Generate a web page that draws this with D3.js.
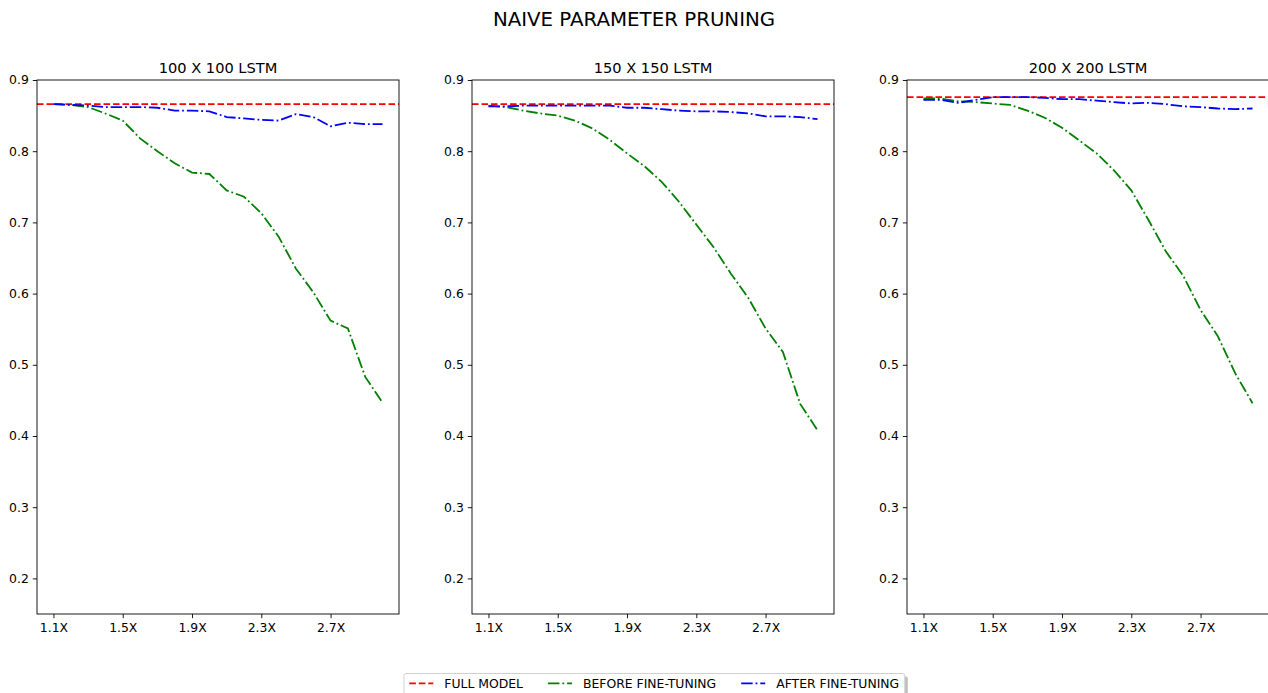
<!DOCTYPE html>
<html><head><meta charset="utf-8">
<script src="https://cdn.jsdelivr.net/npm/d3@7"></script>
<style>
html,body{margin:0;padding:0;background:#fff;overflow:hidden}
text{font-family:"DejaVu Sans",sans-serif;fill:#000}
</style></head>
<body>
<svg id="chart" width="1268" height="693"></svg>
<script>
const xValues = [1.1,1.2,1.3,1.4,1.5,1.6,1.7,1.8,1.9,2.0,2.1,2.2,2.3,2.4,2.5,2.6,2.7,2.8,2.9,3.0];
const xTicks = [1.1,1.5,1.9,2.3,2.7];
const yTicks = [0.2,0.3,0.4,0.5,0.6,0.7,0.8,0.9];
const panelTitles = ["100 X 100 LSTM","150 X 150 LSTM","200 X 200 LSTM"];
const fullModel = [0.866, 0.866, 0.876];
const before100 = [0.866,0.865,0.862,0.853,0.843,0.818,0.800,0.783,0.770,0.768,0.745,0.736,0.713,0.680,0.635,0.602,0.562,0.551,0.483,0.447];
const after100  = [0.866,0.865,0.864,0.862,0.862,0.862,0.861,0.857,0.857,0.856,0.848,0.846,0.844,0.843,0.852,0.848,0.835,0.840,0.838,0.838];
const before150 = [0.864,0.862,0.857,0.853,0.850,0.843,0.832,0.816,0.797,0.779,0.757,0.729,0.697,0.665,0.628,0.594,0.551,0.518,0.445,0.408];
const after150  = [0.863,0.863,0.864,0.864,0.864,0.864,0.864,0.864,0.861,0.861,0.859,0.857,0.856,0.856,0.855,0.853,0.849,0.849,0.848,0.845];
const before200 = [0.874,0.874,0.870,0.869,0.867,0.865,0.857,0.847,0.833,0.815,0.797,0.773,0.745,0.703,0.659,0.625,0.577,0.540,0.488,0.446];
const after200  = [0.872,0.872,0.868,0.872,0.876,0.876,0.876,0.875,0.873,0.873,0.871,0.869,0.867,0.868,0.866,0.863,0.862,0.860,0.859,0.860];
const legendLabels = ["FULL MODEL","BEFORE FINE-TUNING","AFTER FINE-TUNING"];

const beforeSeries = [before100, before150, before200];
const afterSeries = [after100, after150, after200];

const svg = d3.select("#chart");
const W = 1268, H = 693;
const panelLefts = [37, 472, 907];
const pw = 362, plotTop = 80, plotBottom = 614;
const lw = 1.8;
const dashStyle = `${6.6} ${2.9}`;
const dashDot = `${11.5} ${2.9} ${1.8} ${2.9}`;
const colors = {full:"#ff0000", before:"#008000", after:"#0000ff"};
const tickFont = "12.4px";

svg.append("text").attr("x", W/2).attr("y", 25.7).attr("text-anchor","middle")
  .style("font-size","19.8px").text("NAIVE PARAMETER PRUNING");

const xMin = 1.1 - 0.095, xMax = 3.0 + 0.095;

panelLefts.forEach((L, i) => {
  const x = d3.scaleLinear().domain([xMin, xMax]).range([L, L + pw]);
  const y = d3.scaleLinear().domain([0.15, 0.9]).range([plotBottom, plotTop]);
  const g = svg.append("g");
  const clipId = "clip" + i;
  svg.append("clipPath").attr("id", clipId).append("rect")
    .attr("x", L).attr("y", plotTop).attr("width", pw).attr("height", plotBottom - plotTop);

  const plot = g.append("g").attr("clip-path", `url(#${clipId})`);
  plot.append("line").attr("x1", x(xMin)).attr("x2", x(xMax))
    .attr("y1", y(fullModel[i])).attr("y2", y(fullModel[i]))
    .attr("stroke", colors.full).attr("stroke-width", lw).attr("stroke-dasharray", dashStyle);
  const line = d3.line().x((d, j) => x(xValues[j])).y(d => y(d));
  plot.append("path").datum(beforeSeries[i]).attr("d", line).attr("fill","none")
    .attr("stroke", colors.before).attr("stroke-width", lw).attr("stroke-dasharray", dashDot);
  plot.append("path").datum(afterSeries[i]).attr("d", line).attr("fill","none")
    .attr("stroke", colors.after).attr("stroke-width", lw).attr("stroke-dasharray", dashDot);

  const xAxis = d3.axisBottom(x).tickValues(xTicks).tickFormat(d => d3.format(".1f")(d) + "X")
    .tickSizeInner(4.2).tickSizeOuter(0).tickPadding(5);
  const yAxis = d3.axisLeft(y).tickValues(yTicks).tickFormat(d3.format(".1f"))
    .tickSizeInner(4.2).tickSizeOuter(0).tickPadding(4);
  const gx = g.append("g").attr("transform", `translate(0,${plotBottom})`).call(xAxis);
  const gy = g.append("g").attr("transform", `translate(${L},0)`).call(yAxis);
  [gx, gy].forEach(a => {
    a.selectAll(".domain").remove();
    a.selectAll("line").attr("stroke","#000").attr("stroke-width",0.9);
    a.selectAll("text").style("font-size",tickFont).style("font-family","DejaVu Sans");
  });
  g.append("rect").attr("x", L).attr("y", plotTop).attr("width", pw).attr("height", plotBottom - plotTop)
    .attr("fill","none").attr("stroke","#000").attr("stroke-width",0.9);

  g.append("text").attr("x", L + pw/2).attr("y", plotTop - 6.7).attr("text-anchor","middle")
    .style("font-size","14.6px").text(panelTitles[i]);
});

// legend
const lg = svg.append("g");
const lx = 404, ly = 673.5, lh = 27;
const shadow = lg.append("rect").attr("x", lx + 3).attr("y", ly + 3).attr("rx", 2)
  .attr("height", lh).attr("fill", "#7f7f7f").attr("opacity", 0.5);
const box = lg.append("rect").attr("x", lx).attr("y", ly).attr("rx", 2)
  .attr("height", lh).attr("fill", "#fff").attr("stroke", "#cccccc").attr("stroke-width", 0.9);
const legendColors = [colors.full, colors.before, colors.after];
const legendDash = [dashStyle, dashDot, dashDot];
let cx = lx + 5.3;
const cy = 683.4;
legendLabels.forEach((lab, k) => {
  lg.append("line").attr("x1", cx).attr("x2", cx + 24).attr("y1", cy).attr("y2", cy)
    .attr("stroke", legendColors[k]).attr("stroke-width", lw).attr("stroke-dasharray", legendDash[k]);
  const t = lg.append("text").attr("x", cx + 35).attr("y", cy + 4.5)
    .style("font-size",tickFont).text(lab);
  const tw = t.node().getComputedTextLength();
  cx = cx + 35 + tw + 25;
});
const bw = cx - 25 + 5.6 - lx;
box.attr("width", bw);
shadow.attr("width", bw);
</script>
</body></html>
